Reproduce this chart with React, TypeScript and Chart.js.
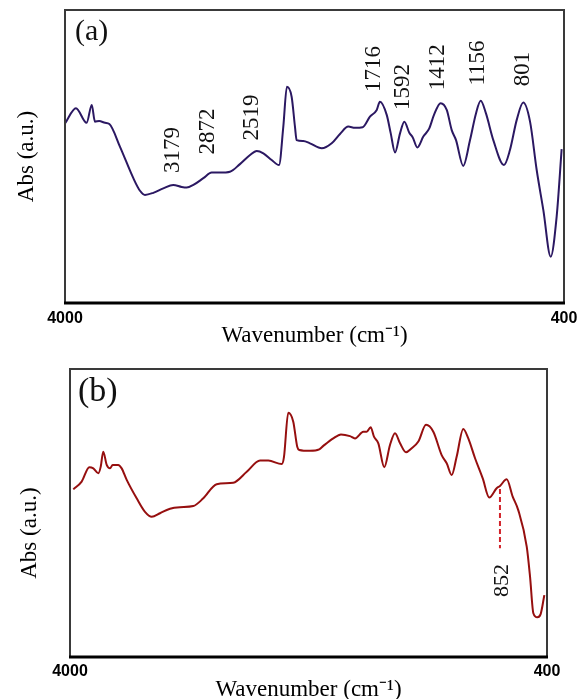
import React, { useEffect, useRef } from 'react';
import { Chart, registerables } from 'chart.js';

Chart.register(...registerables);

// x-axis tick values (wavenumber, cm-1)
const xTicks = [4000, 400];

// Panel (a)
const waveA = [4000, 3921, 3844, 3807, 3784, 3753, 3711, 3680, 3603, 3507, 3459, 3423, 3363, 3291, 3219, 3158, 3122, 3074, 3002, 2942, 2882, 2810, 2738, 2665, 2617, 2569, 2509, 2456, 2425, 2399, 2365, 2341, 2329, 2281, 2233, 2148, 2076, 2016, 1956, 1908, 1852, 1800, 1751, 1728, 1679, 1650, 1619, 1583, 1552, 1516, 1492, 1458, 1415, 1372, 1338, 1290, 1246, 1210, 1179, 1127, 1078, 1035, 1001, 963, 910, 833, 790, 741, 694, 645, 597, 549, 496, 453, 417];
const absA = [61.3, 66.5, 61.5, 67.6, 61.9, 62.1, 61.5, 61.1, 53.3, 42.6, 38.3, 36.9, 37.6, 39.1, 40.3, 39.6, 39.4, 40.3, 42.6, 44.5, 44.5, 44.8, 47.4, 50.5, 51.9, 51.1, 48.8, 47.1, 60.2, 73.8, 70.4, 60.2, 55.6, 55.3, 54.5, 52.8, 54.5, 57.7, 60.2, 59.8, 60.0, 63.6, 65.9, 68.7, 64.2, 57.9, 51.4, 57.9, 61.9, 58.1, 56.6, 53.1, 56.8, 59.6, 64.2, 68.2, 65.9, 59.0, 55.6, 46.8, 55.6, 64.7, 69.0, 64.7, 55.6, 47.1, 52.2, 62.5, 68.4, 61.9, 45.4, 31.7, 15.8, 29.5, 52.5];
const peakLabelsA = ['3179', '2872', '2519', '1716', '1592', '1412', '1156', '801'];
const peakLabelXA = [3219, 2966, 2653, 1771, 1559, 1307, 1018, 694];
const peakLabelYA = [52.2, 58.5, 63.3, 79.9, 73.7, 80.5, 81.9, 79.9];

// Panel (b)
const waveB = [3975, 3912, 3854, 3824, 3786, 3768, 3749, 3723, 3698, 3678, 3636, 3610, 3572, 3497, 3434, 3383, 3321, 3245, 3170, 3069, 2994, 2893, 2768, 2666, 2566, 2503, 2402, 2385, 2353, 2315, 2285, 2270, 2189, 2119, 2088, 2013, 1955, 1887, 1849, 1786, 1761, 1731, 1706, 1673, 1628, 1585, 1547, 1509, 1464, 1421, 1371, 1313, 1258, 1195, 1157, 1119, 1082, 1032, 994, 943, 885, 836, 780, 755, 704, 659, 617, 553, 528, 503, 473, 448, 420];
const absB = [58.2, 60.9, 65.9, 65.5, 63.8, 66.1, 71.3, 66.7, 65.5, 66.7, 66.7, 65.5, 61.5, 55.1, 50.4, 48.7, 49.9, 51.5, 52.0, 52.4, 55.1, 60.0, 60.5, 64.3, 68.2, 68.2, 67.0, 69.5, 84.8, 81.7, 73.0, 71.9, 71.6, 72.1, 73.3, 75.9, 77.3, 76.7, 75.9, 78.2, 78.2, 79.8, 76.5, 74.2, 65.9, 73.6, 77.7, 74.2, 71.1, 72.5, 74.8, 80.6, 78.2, 70.1, 67.3, 63.2, 69.5, 79.2, 75.9, 69.0, 62.0, 55.4, 58.6, 59.4, 61.7, 55.7, 51.0, 38.3, 27.9, 15.2, 13.8, 14.9, 21.5];
const markerLabelB = '852';
const markerXB = 755;
const markerTopB = 58.3;
const markerBottomB = 37.8;
const markerLabelXB = 740;
const markerLabelYB = 26.6;

const SERIF = '"Liberation Serif", "Times New Roman", serif';
const SANS = '"Liberation Sans", Arial, sans-serif';

type PanelOpts = {
  wave: number[];
  abs: number[];
  color: string;
  letter: string;
  letterSize: number;
  letterDX: number;
  letterDY: number;
  padTop: number;
  padRight: number;
  xAxisHeight: number;
  yAxisWidth: number;
  xTickPad: number;
  xTitlePad: number;
  yTitlePad: number;
  yTitle: string;
  labels?: string[];
  labelX?: number[];
  labelY?: number[];
  marker?: { x: number; top: number; bottom: number; label: string; lx: number; ly: number };
};

function makeConfig(p: PanelOpts): any {
  const annot = {
    id: 'annot',
    afterDatasetsDraw(chart: any) {
      const { ctx, chartArea: a, scales } = chart;
      const x = scales.x;
      const y = scales.y;
      ctx.save();
      // frame
      ctx.strokeStyle = '#3a3a3a';
      ctx.lineWidth = 2;
      ctx.strokeRect(a.left, a.top, a.right - a.left, a.bottom - a.top);
      ctx.strokeStyle = '#000';
      ctx.lineWidth = 3;
      ctx.beginPath();
      ctx.moveTo(a.left - 1, a.bottom);
      ctx.lineTo(a.right + 1, a.bottom);
      ctx.stroke();
      // panel letter
      ctx.fillStyle = '#111';
      ctx.font = `${p.letterSize}px ${SERIF}`;
      ctx.textAlign = 'left';
      ctx.textBaseline = 'alphabetic';
      ctx.fillText(p.letter, a.left + p.letterDX, a.top + p.letterDY);
      // peak labels
      ctx.font = `23px ${SERIF}`;
      ctx.textAlign = 'center';
      ctx.textBaseline = 'middle';
      (p.labels || []).forEach((t, i) => {
        const px = x.getPixelForValue(p.labelX![i]);
        const py = y.getPixelForValue(p.labelY![i]);
        ctx.save();
        ctx.translate(px, py);
        ctx.rotate(-Math.PI / 2);
        ctx.fillText(t, 0, 0);
        ctx.restore();
      });
      if (p.marker) {
        const m = p.marker;
        const mx = x.getPixelForValue(m.x);
        ctx.strokeStyle = '#d2232a';
        ctx.lineWidth = 2;
        ctx.setLineDash([5, 3]);
        ctx.beginPath();
        ctx.moveTo(mx, y.getPixelForValue(m.top));
        ctx.lineTo(mx, y.getPixelForValue(m.bottom));
        ctx.stroke();
        ctx.setLineDash([]);
        ctx.save();
        ctx.translate(x.getPixelForValue(m.lx), y.getPixelForValue(m.ly));
        ctx.rotate(-Math.PI / 2);
        ctx.font = `22px ${SERIF}`;
        ctx.fillStyle = '#111';
        ctx.fillText(m.label, 0, 0);
        ctx.restore();
      }
      ctx.restore();
    },
  };

  return {
    type: 'line',
    data: {
      datasets: [
        {
          data: p.wave.map((w, i) => ({ x: w, y: p.abs[i] })),
          borderColor: p.color,
          borderWidth: 2,
          pointRadius: 0,
          cubicInterpolationMode: 'monotone',
          fill: false,
        },
      ],
    },
    options: {
      animation: false,
      responsive: false,
      maintainAspectRatio: false,
      layout: {
        autoPadding: false,
        padding: { top: p.padTop, right: p.padRight, left: 0, bottom: 0 },
      },
      plugins: { legend: { display: false }, tooltip: { enabled: false } },
      scales: {
        x: {
          type: 'linear',
          reverse: true,
          min: 400,
          max: 4000,
          afterBuildTicks: (s: any) => {
            s.ticks = xTicks.map((v) => ({ value: v }));
          },
          afterFit: (s: any) => {
            s.height = p.xAxisHeight;
          },
          grid: { display: false },
          border: { display: false },
          ticks: {
            autoSkip: false,
            maxRotation: 0,
            minRotation: 0,
            padding: p.xTickPad,
            color: '#000',
            font: { family: SANS, size: 16, weight: 'bold' },
            callback: (v: any) => String(v),
          },
          title: {
            display: true,
            text: 'Wavenumber (cm\u207B\u00B9)',
            color: '#000',
            font: { family: SERIF, size: 23, lineHeight: 0.8 },
            padding: { top: 0, bottom: p.xTitlePad },
          },
        },
        y: {
          min: 0,
          max: 100,
          afterFit: (s: any) => {
            s.width = p.yAxisWidth;
          },
          grid: { display: false },
          border: { display: false },
          ticks: { display: false },
          title: {
            display: true,
            text: p.yTitle,
            color: '#000',
            font: { family: SERIF, size: 23, lineHeight: 0.8 },
            padding: { top: p.yTitlePad, bottom: 0 },
          },
        },
      },
    },
    plugins: [annot],
  };
}

export default function App() {
  const refA = useRef<HTMLCanvasElement>(null);
  const refB = useRef<HTMLCanvasElement>(null);

  useEffect(() => {
    const a = new Chart(
      refA.current!,
      makeConfig({
        wave: waveA,
        abs: absA,
        color: '#2b1862',
        letter: '(a)',
        letterSize: 30,
        letterDX: 10,
        letterDY: 30,
        padTop: 10,
        padRight: 20,
        xAxisHeight: 47,
        yAxisWidth: 65,
        xTickPad: -2,
        xTitlePad: 5,
        yTitlePad: 18,
        yTitle: 'Abs (a.u.)',
        labels: peakLabelsA,
        labelX: peakLabelXA,
        labelY: peakLabelYA,
      })
    );
    const b = new Chart(
      refB.current!,
      makeConfig({
        wave: waveB,
        abs: absB,
        color: '#960f0f',
        letter: '(b)',
        letterSize: 34,
        letterDX: 8,
        letterDY: 32,
        padTop: 19,
        padRight: 37,
        xAxisHeight: 42,
        yAxisWidth: 70,
        xTickPad: -3,
        xTitlePad: 0,
        yTitlePad: 21,
        yTitle: 'Abs (a.u.)\u00A0\u00A0\u00A0\u00A0\u00A0\u00A0\u00A0',
        marker: {
          x: markerXB,
          top: markerTopB,
          bottom: markerBottomB,
          label: markerLabelB,
          lx: markerLabelXB,
          ly: markerLabelYB,
        },
      })
    );
    return () => {
      a.destroy();
      b.destroy();
    };
  }, []);

  return (
    <div
      style={{
        position: 'absolute',
        left: 0,
        top: 0,
        width: 584,
        height: 699,
        overflow: 'hidden',
        background: '#fff',
      }}
    >
      <canvas
        ref={refA}
        width={584}
        height={350}
        style={{ position: 'absolute', left: 0, top: 0, width: 584, height: 350 }}
      />
      <canvas
        ref={refB}
        width={584}
        height={349}
        style={{ position: 'absolute', left: 0, top: 350, width: 584, height: 349 }}
      />
    </div>
  );
}
